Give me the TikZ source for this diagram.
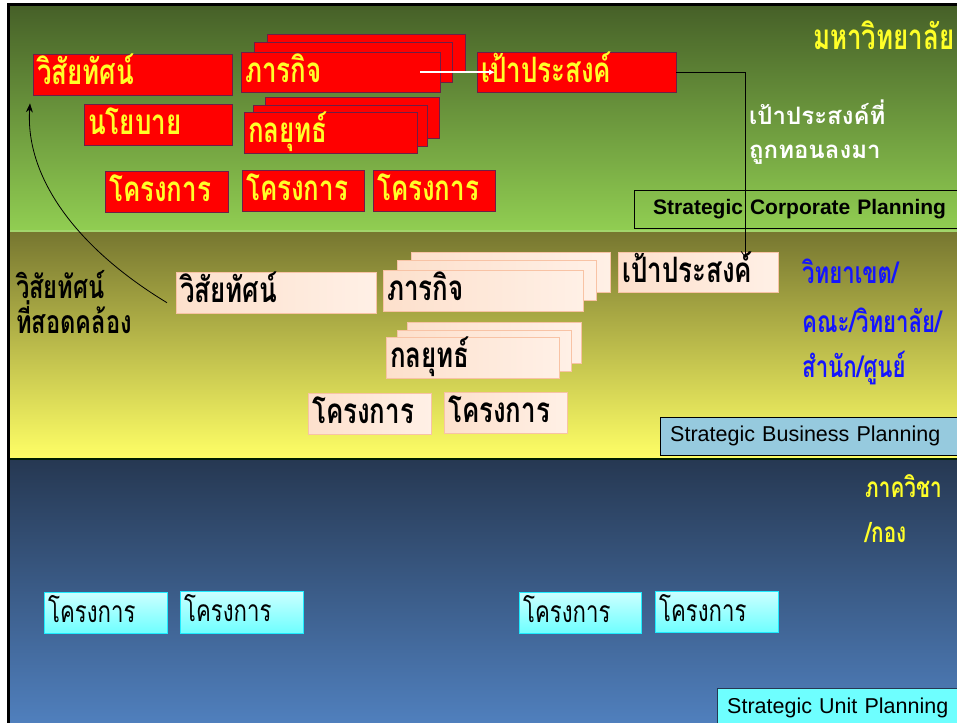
\documentclass[tikz,border=0pt]{standalone}
\usepackage{fontspec}
\usetikzlibrary{arrows.meta}
\setmainfont{Liberation Sans}
\newfontfamily\thai[Script=Thai]{Loma}
\newfontfamily\thaic[Script=Thai,FakeStretch=0.74]{Loma}
\definecolor{gtop}{RGB}{70,96,40}
\definecolor{gbot}{RGB}{145,206,82}
\definecolor{ytop}{RGB}{118,118,48}
\definecolor{ybot}{RGB}{255,255,102}
\definecolor{btop}{RGB}{38,56,82}
\definecolor{bbot}{RGB}{80,128,190}
\definecolor{redborder}{RGB}{110,30,70}
\definecolor{txtyellow}{RGB}{255,255,40}
\definecolor{peachL}{RGB}{253,224,204}
\definecolor{peachR}{RGB}{255,240,230}
\definecolor{peachB}{RGB}{248,195,165}
\definecolor{cyanT}{RGB}{204,255,255}
\definecolor{cyanB}{RGB}{110,255,255}
\definecolor{cyanD}{RGB}{30,235,255}
\definecolor{sbpfill}{RGB}{150,202,222}
\definecolor{thblue}{RGB}{20,20,255}
\begin{document}
\begin{tikzpicture}[x=1pt,y=-1pt,
  basebox/.style={anchor=north west, inner xsep=4pt, inner ysep=0pt, align=left,
     text height=30pt, text depth=11pt},
  redbox/.style={basebox, draw=redborder, fill=red, text=txtyellow,
     font=\thaic\bfseries\fontsize{35}{35}\selectfont},
  peachbox/.style={basebox, draw=peachB, left color=peachL, right color=peachR, text=black,
     font=\thaic\bfseries\fontsize{35}{35}\selectfont},
  cyanbox/.style={basebox, draw=cyanD, top color=cyanT, bottom color=cyanB, text=black,
     font=\thaic\fontsize{30}{30}\selectfont},
  planbox/.style={anchor=north west, draw=black, inner ysep=0pt, align=left},
  sidetext/.style={anchor=base west, inner sep=0pt},
]
\useasboundingbox (0,0) rectangle (957,722);
\clip (0,0) rectangle (957,722);
% bands
\shade[top color=gtop, bottom color=gbot] (8,5) rectangle (960,231);
\shade[top color=ytop, bottom color=ybot] (8,231) rectangle (960,459);
\shade[top color=btop, bottom color=bbot] (8,459) rectangle (960,725);
\draw[line width=2pt, color=gbot!85!white] (8,231) -- (960,231);
\draw[line width=2pt, color=black!70!green!40!black] (8,459) -- (960,459);
\draw[line width=3pt, black] (8,740) -- (8,5) -- (970,5);

% ---- corporate level (red)
\node[redbox, text width=191pt] (rv) at (33,54) {วิสัยทัศน์};
\node[redbox, text width=190pt, text depth=8pt] (gm3) at (267,34) {};
\node[redbox, text width=190pt, text depth=10pt] (gm2) at (254,42) {};
\node[redbox, text width=191pt, text depth=10pt] (gm1) at (241,52) {ภารกิจ};
\node[redbox, text width=191pt, text depth=10pt] (gr) at (477,52) {เป้าประสงค์};
\node[redbox, text width=140pt] (rn) at (84,104) {นโยบาย};
\node[redbox, text width=166pt] (gs3) at (265,97) {};
\node[redbox, text width=166pt] (gs2) at (253,105) {};
\node[redbox, text width=165pt] (gs1) at (244,112) {กลยุทธ์};
\node[redbox, text width=115pt] (rp1) at (105,171) {โครงการ};
\node[redbox, text width=114pt] (rp2) at (242,170) {โครงการ};
\node[redbox, text width=114pt] (rp3) at (373,170) {โครงการ};

\node[sidetext, text=txtyellow, font=\thaic\bfseries\fontsize{35}{35}\selectfont] (uni) at (813,50) {มหาวิทยาลัย};
\node[sidetext, text=white, align=left, font=\thai\bfseries\fontsize{24}{33}\selectfont] (goaldown) at (749,158) {เป้าประสงค์ที่\\ถูกทอนลงมา};
\node[planbox, inner xsep=19pt, text width=300pt, minimum height=38pt, font=\bfseries\fontsize{21}{21}\selectfont] (scp) at (634,190) {\mbox{Strategic Corporate Planning}};

% ---- business level (peach)
\node[peachbox, text width=192pt] (pv) at (176,272) {วิสัยทัศน์};
\node[peachbox, text width=191pt, text depth=10pt] (pm3) at (411,252) {};
\node[peachbox, text width=191pt, text depth=10pt] (pm2) at (397,260) {};
\node[peachbox, text width=192pt] (pm1) at (383,270) {ภารกิจ};
\node[peachbox, text width=152pt, text depth=10pt] (pg) at (618,252) {เป้าประสงค์};
\node[peachbox, text width=166pt] (ps3) at (407,322) {};
\node[peachbox, text width=166pt] (ps2) at (397,330) {};
\node[peachbox, text width=165pt] (ps1) at (386,337) {กลยุทธ์};
\node[peachbox, text width=115pt] (pp1) at (308,393) {โครงการ};
\node[peachbox, text width=115pt] (pp2) at (444,392) {โครงการ};

\node[sidetext, align=left, font=\thaic\bfseries\fontsize{32}{33}\selectfont] (consist) at (16,333) {วิสัยทัศน์\\ที่สอดคล้อง};
\node[sidetext, text=thblue, font=\thaic\bfseries\fontsize{30}{30}\selectfont] (fac1) at (802,283) {วิทยาเขต/};
\node[sidetext, text=thblue, font=\thaic\bfseries\fontsize{30}{30}\selectfont] (fac2) at (802,332) {คณะ/วิทยาลัย/};
\node[sidetext, text=thblue, font=\thaic\bfseries\fontsize{30}{30}\selectfont] (fac3) at (802,377) {สำนัก/ศูนย์};
\node[planbox, fill=sbpfill, inner xsep=10pt, text width=285pt, minimum height=38pt, font=\fontsize{21.5}{21.5}\selectfont] (sbp) at (660,417) {\mbox{Strategic Business Planning}};

% ---- unit level (cyan)
\node[sidetext, text=txtyellow, font=\thaic\bfseries\fontsize{28}{28}\selectfont] (dep1) at (865,497) {ภาควิชา};
\node[sidetext, text=txtyellow, font=\thaic\bfseries\fontsize{28}{28}\selectfont] (dep2) at (865,542) {/กอง};
\node[cyanbox, text width=115pt] (cp1) at (44,592) {โครงการ};
\node[cyanbox, text width=115pt, text depth=12pt] (cp2) at (180,591) {โครงการ};
\node[cyanbox, text width=114pt] (cp3) at (519,592) {โครงการ};
\node[cyanbox, text width=115pt] (cp4) at (655,591) {โครงการ};
\node[planbox, draw=btop, fill=cyanB, inner xsep=10pt, text width=230pt, minimum height=40pt, font=\fontsize{21.5}{21.5}\selectfont] (sup) at (717,688) {\mbox{Strategic Unit Planning}};

% ---- connectors
\draw[white, line width=2pt, -{Latex[length=6pt,width=6pt]}] ([xshift=-20pt]gm1.east) -- ([xshift=18pt]gr.west);
\draw[black, line width=0.8pt, -{Straight Barb[length=6pt,width=8pt]}] (gr.east) -| ([xshift=47pt,yshift=-6pt]pg.north);
\draw[black, line width=0.8pt, -{Stealth[length=9pt,width=7pt]}] ([xshift=-9pt,yshift=-10pt]pv.west) .. controls (80,250) and (25,180) .. ([xshift=-3pt,yshift=-8pt]rv.south west);
\end{tikzpicture}
\end{document}
